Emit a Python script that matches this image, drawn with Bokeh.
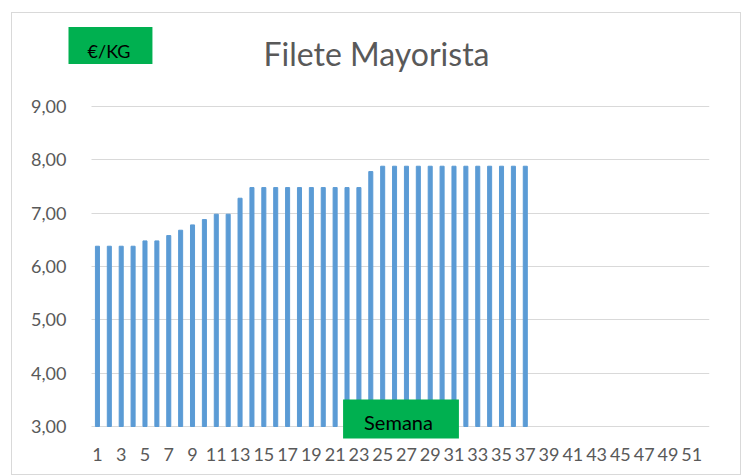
from bokeh.plotting import figure
from bokeh.models import Range1d, FixedTicker, Label, Grid
from bokeh.embed import file_html
from bokeh.resources import INLINE

# ---- data ----
weeks = list(range(1, 38))
prices = [6.38, 6.38, 6.38, 6.38, 6.48, 6.48, 6.58, 6.68, 6.78, 6.88,
          6.98, 6.98, 7.28, 7.48, 7.48, 7.48, 7.48, 7.48, 7.48, 7.48,
          7.48, 7.48, 7.48, 7.78, 7.88, 7.88, 7.88, 7.88, 7.88, 7.88,
          7.88, 7.88, 7.88, 7.88, 7.88, 7.88, 7.88]
n_weeks = 52
x_ticks = list(range(1, 52, 2))
y_ticks = [3, 4, 5, 6, 7, 8, 9]
y_tick_labels = ["3,00", "4,00", "5,00", "6,00", "7,00", "8,00", "9,00"]
y_min, y_max = 3, 9
title_text = "Filete Mayorista"
y_unit_text = "€/KG"
x_name_text = "Semana"

FONT = "Lato"
GREY = "#595959"
GREEN = "#00B050"
GRID = "#D9D9D9"

# frame extended (without extra ticks/grid) so the title boxes are not clipped
x_lo, x_hi = 0.5, n_weeks + 0.5
PX_X = 618 / n_weeks          # pixels per week
PX_Y = 320 / (y_max - y_min)  # pixels per euro
x_range = Range1d(x_lo - 23 / PX_X, x_hi)
y_range = Range1d(y_min - 13 / PX_Y, y_max + 93 / PX_Y)

p = figure(width=730, height=463, output_backend="svg", toolbar_location=None,
           x_range=x_range, y_range=y_range, title=None,
           min_border_left=56, min_border_right=33, min_border_top=0,
           min_border_bottom=37)
p.margin = (12, 0, 0, 11)
p.styles = {"border": "1px solid #d9d9d9"}
p.outline_line_color = None

p.xgrid.grid_line_color = None
p.ygrid.ticker = FixedTicker(ticks=y_ticks)
if hasattr(Grid, "cross_bounds"):
    p.ygrid.grid_line_color = GRID
    p.ygrid.grid_line_width = 1
    p.ygrid.cross_bounds = (x_lo, x_hi)
else:
    p.ygrid.grid_line_color = None
    p.segment(x0=[x_lo] * len(y_ticks), x1=[x_hi] * len(y_ticks),
              y0=y_ticks, y1=y_ticks, line_color=GRID, line_width=1)

p.vbar(x=weeks, top=prices, bottom=y_min, width=0.34, color="#5B9BD5")

p.yaxis.ticker = FixedTicker(ticks=y_ticks)
p.yaxis.major_label_overrides = dict(zip(y_ticks, y_tick_labels))
p.yaxis.axis_line_color = None
p.yaxis.major_tick_line_color = None
p.yaxis.minor_tick_line_color = None
p.yaxis.major_label_standoff = -4
p.yaxis.major_label_text_font = FONT
p.yaxis.major_label_text_font_size = "18px"
p.yaxis.major_label_text_color = GREY

p.xaxis.ticker = FixedTicker(ticks=x_ticks)
p.xaxis.axis_line_color = None
p.xaxis.major_tick_line_color = None
p.xaxis.minor_tick_line_color = None
p.xaxis.major_label_standoff = 2
p.xaxis.major_label_text_font = FONT
p.xaxis.major_label_text_font_size = "18px"
p.xaxis.major_label_text_color = GREY

# padding is (left, right, top, bottom); the padded box is centred on (x, y)
p.add_layout(Label(x=363, y=39, x_units="canvas", y_units="canvas",
                   text=title_text, text_font=FONT, text_font_size="32px",
                   text_color=GREY, text_align="center", text_baseline="middle"))
p.add_layout(Label(x=96.5, y=31, x_units="canvas", y_units="canvas",
                   text=y_unit_text, text_font=FONT, text_font_size="18px",
                   text_color="black", text_align="center", text_baseline="middle",
                   background_fill_color=GREEN, padding=(20, 22, 13, 2)))
p.add_layout(Label(x=387.5, y=404.5, x_units="canvas", y_units="canvas",
                   text=x_name_text, text_font=FONT, text_font_size="20px",
                   text_color="black", text_align="center", text_baseline="middle",
                   background_fill_color=GREEN, padding=(21, 26, 10, 5)))

open("out.html", "w").write(file_html(p, INLINE))
